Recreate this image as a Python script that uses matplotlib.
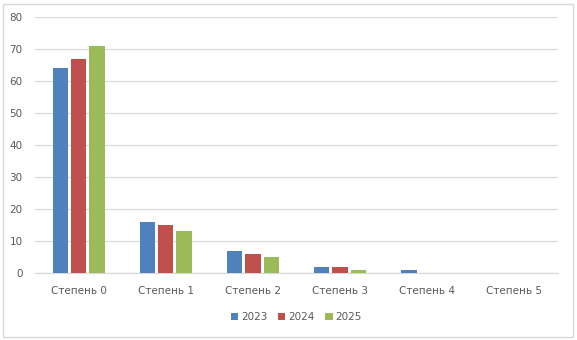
import matplotlib.pyplot as plt
import numpy as np
from matplotlib.patches import Rectangle

categories = ['Степень 0', 'Степень 1', 'Степень 2', 'Степень 3', 'Степень 4', 'Степень 5']
years = ['2023', '2024', '2025']
values_2023 = [64, 16, 7, 2, 1, 0]
values_2024 = [67, 15, 6, 2, 0, 0]
values_2025 = [71, 13, 5, 1, 0, 0]
colors = ['#4F81BD', '#C0504D', '#9BBB59']

fig = plt.figure(figsize=(5.77, 3.40), dpi=100)
ax = fig.add_axes([35 / 577, 67 / 340, 523 / 577, 256 / 340])

# outer chart border
fig.patches.append(Rectangle((3 / 577, 3 / 340), 570 / 577, 333 / 340, transform=fig.transFigure,
                             fill=False, edgecolor='#D9D9D9', linewidth=1))

x = np.arange(len(categories))
width = 0.175
step = 0.21
for i, (vals, year) in enumerate(zip([values_2023, values_2024, values_2025], years)):
    ax.bar(x + (i - 1) * step, vals, width, color=colors[i], label=year, zorder=3)

ax.set_xlim(-0.5, len(categories) - 0.5)
ax.set_ylim(0, 80)
ax.set_yticks(range(0, 81, 10))
ax.set_xticks(x)
ax.set_xticklabels(categories)
ax.grid(axis='y', color='#D9D9D9', linewidth=0.9, zorder=0)
for s in ['top', 'right', 'left']:
    ax.spines[s].set_visible(False)
ax.spines['bottom'].set_color('#D9D9D9')
ax.spines['bottom'].set_linewidth(0.9)
ax.tick_params(axis='both', length=0, labelsize=7.5, labelcolor='#595959')
ax.tick_params(axis='x', pad=9)
ax.tick_params(axis='y', pad=9)

ax.legend(loc='upper center', bbox_to_anchor=(0.5, -0.115), ncol=3, frameon=False,
          fontsize=7.5, labelcolor='#595959', handlelength=0.7, handleheight=0.7,
          handletextpad=0.3, columnspacing=1.0)

fig.savefig('out.png', dpi=100)
